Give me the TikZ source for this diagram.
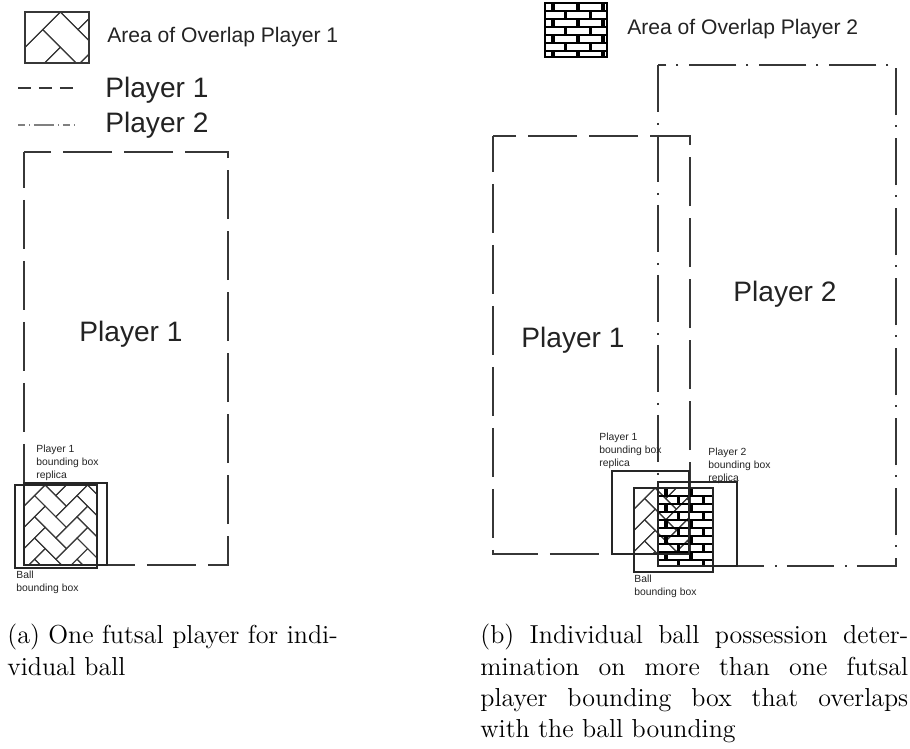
\documentclass[tikz,border=0pt]{standalone}
\usepackage{fontspec}
\newfontfamily\arialfont{Liberation Sans}
\usepackage{tikz}
\usetikzlibrary{positioning,calc}

\definecolor{linegray}{RGB}{55,55,55}
\definecolor{textgray}{RGB}{35,35,35}

\tikzset{
  playerone/.style={draw=linegray, line width=0.8pt, dash pattern=on 0.98cm off 0.24cm, dash phase=0.26cm},
  playertwo/.style={draw=linegray, line width=0.8pt, dash pattern=on 0.94cm off 0.22cm on 0.04cm off 0.2cm},
  bbox/.style={draw=black!85, line width=0.7pt},
  hatchline/.style={draw=linegray, line width=0.6pt},
  brickline/.style={draw=black, line width=0.9pt},
  brickbar/.style={draw=black, line width=1.8pt},
  brickedge/.style={draw=black, line width=1.1pt},
  legendtext/.style={font=\arialfont\fontsize{12}{14}\selectfont, text=textgray, anchor=base west, inner sep=0pt},
  bigtext/.style={font=\arialfont\fontsize{16}{19}\selectfont, text=textgray, anchor=base, inner sep=0pt},
  smalltext/.style={font=\arialfont\fontsize{5.9}{7.2}\selectfont, text=textgray, align=left, anchor=north west, inner sep=0pt},
  captiontext/.style={font=\fontsize{14.8}{17.8}\selectfont, anchor=north west, inner sep=0pt}
}

% herringbone fill: x1,y1,x2,y2,unit
\newcommand{\herringbonefill}[5]{%
  \begin{scope}
    \clip (#1,#2) rectangle (#3,#4);
    \begin{scope}[shift={(#1,#2)}, x=#5, y=#5, rotate=45]
      \foreach \k in {-9,...,3}{
        \foreach \m in {-2,...,4}{
          \draw[hatchline] ({\k+2*\m},{\k-2*\m}) rectangle ++(2,1);
          \draw[hatchline] ({\k+2*\m+2},{\k-2*\m-1}) rectangle ++(1,2);
        }
      }
    \end{scope}
  \end{scope}
}

% brick fill: x1,y1,x2,y2
\newcommand{\brickfill}[4]{%
  \begin{scope}
    \clip (#1,#2) rectangle (#3,#4);
    \foreach \r in {0,...,12}{
      \pgfmathsetmacro{\rowy}{#2+8*\r}
      \pgfmathsetmacro{\rowoff}{mod(\r,2)*12.5}
      \draw[brickline] (#1,\rowy) -- (#3,\rowy);
      \foreach \j in {0,...,4}{
        \draw[brickbar] ({#1+\rowoff+25*\j+8},\rowy) -- ++(0,8);
      }
    }
  \end{scope}
  \draw[brickedge] (#1,#2) rectangle (#3,#4);
}

\begin{document}
\begin{tikzpicture}[x=0.02cm, y=-0.02cm]
  \useasboundingbox (0,0) rectangle (910,749);

  % legend (a)
  \herringbonefill{25}{12}{89}{63}{0.5cm}
  \draw[brickedge, draw=linegray] (25,12) rectangle (89,63);
  \node[legendtext] (legoverlapone) at (107,43) {Area of Overlap Player 1};
  \coordinate (dashstart) at (18,88);
  \coordinate (dashend) at (78,88);
  \draw[draw=linegray, line width=0.8pt, dash pattern=on 0.26cm off 0.16cm] (dashstart) -- (dashend);
  \node[bigtext, anchor=base west] (legplayerone) at (105,98) {Player 1};
  \coordinate (dotstart) at (18,125);
  \coordinate (dotend) at (78,125);
  \draw[draw=gray, line width=0.6pt, dash pattern=on 0.14cm off 0.08cm on 0.02cm off 0.08cm on 0.4cm off 0.08cm on 0.02cm off 0.08cm] (dotstart) -- (dotend);
  \node[bigtext, anchor=base west] (legplayertwo) at (105,133) {Player 2};

  % one player, one ball
  \draw[playerone] (24,152) rectangle (228,565);
  \node[bigtext] (pone) at (131,342) {Player 1};
  \herringbonefill{24}{485}{97}{565}{0.3cm}
  \draw[bbox] (24,483) rectangle (107,565);
  \draw[bbox] (15,485) rectangle (97,568);
  \node[smalltext] (ponebox) at (36,445) {Player 1\\bounding box\\replica};
  \node[smalltext] (ballbox) at (16,571) {Ball\\bounding box};

  % legend (b)
  \brickfill{545}{3}{607}{57}
  \node[legendtext] (legoverlaptwo) at (627,35) {Area of Overlap Player 2};

  % two players, one ball
  \draw[playerone] (493,136) rectangle (690,554);
  \draw[playertwo] (658,65) rectangle (896,566);
  \node[bigtext] (ptwoone) at (573,348) {Player 1};
  \node[bigtext] (ptwotwo) at (785,302) {Player 2};
  \herringbonefill{634}{488}{689}{554}{0.3cm}
  \brickfill{658}{488}{713}{566}
  \draw[bbox] (612,471) rectangle (689,554);
  \draw[bbox] (658,482) rectangle (737,566);
  \draw[bbox] (634,488) rectangle (713,572);
  \node[smalltext] (ptwoonebox) at (599,433) {Player 1\\bounding box\\replica};
  \node[smalltext] (ptwotwobox) at (708,448) {Player 2\\bounding box\\replica};
  \node[smalltext] (ptwoball) at (634,575) {Ball\\bounding box};

  % captions
  \node[captiontext, align=left] (capa) at (7,624) {(a) One futsal player for indi-\\vidual ball};
  \node[captiontext, text width=8.56cm, align=justify] (capb) at (480,624)
    {(b) Individual ball possession deter-\linebreak mination on more than one futsal\linebreak player bounding box that overlaps\linebreak with the ball bounding};
\end{tikzpicture}
\end{document}
